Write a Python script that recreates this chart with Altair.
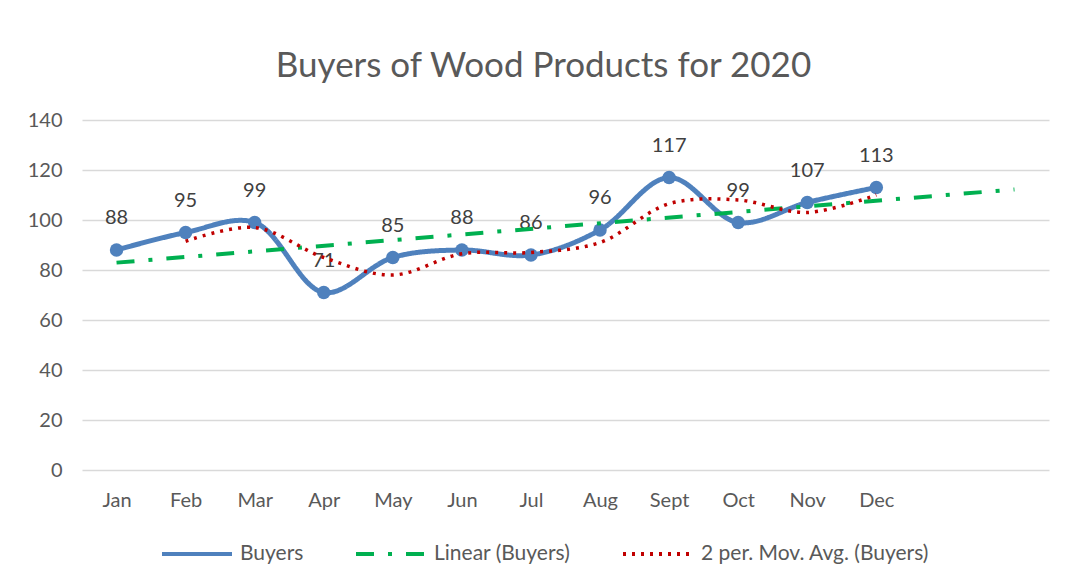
import altair as alt
import pandas as pd

months = ["Jan", "Feb", "Mar", "Apr", "May", "Jun", "Jul", "Aug", "Sept", "Oct", "Nov", "Dec"]
buyers = [88, 95, 99, 71, 85, 88, 86, 96, 117, 99, 107, 113]
series_names = ["Buyers", "Linear (Buyers)", "2 per. Mov. Avg. (Buyers)"]
series_colors = ["#4F81BD", "#00B050", "#C00000"]
y_ticks = [0, 20, 40, 60, 80, 100, 120, 140]

df = pd.DataFrame({"x": list(range(1, len(months) + 1)), "month": months, "buyers": buyers})

FONT = "Lato"
FS = 20
label_expr = "[" + ",".join(["''"] + ["'%s'" % m for m in months] + ["''", "''"]) + "][datum.value]"

xenc = alt.X("x:Q", scale=alt.Scale(domain=[0.5, 14.5], nice=False, zero=False),
             axis=alt.Axis(values=list(range(1, 13)), labelExpr=label_expr, title=None,
                           grid=False, domain=False, ticks=False, labelPadding=20,
                           labelFontSize=FS, labelColor="#595959", labelFont=FONT))
yenc = alt.Y("buyers:Q", scale=alt.Scale(domain=[0, 140], nice=False),
             axis=alt.Axis(values=y_ticks, title=None, domain=False, ticks=False,
                           labelPadding=20, labelFontSize=FS, labelColor="#595959",
                           labelFont=FONT, gridColor="#D9D9D9", gridWidth=1.3))

color = alt.Color("series:N", scale=alt.Scale(domain=series_names, range=series_colors),
                  legend=alt.Legend(title=None, orient="none", direction="horizontal",
                                    legendX=78, legendY=397, symbolType="stroke",
                                    symbolSize=4900, symbolStrokeWidth=4,
                                    labelFontSize=21, labelColor="#595959", labelFont=FONT,
                                    labelLimit=500, columnPadding=44, labelOffset=6))
dash = alt.StrokeDash("series:N", scale=alt.Scale(domain=series_names,
                      range=[[1, 0], [18, 14, 4, 14], [3, 6]]), legend=None)

base = alt.Chart(df)

line = base.mark_line(interpolate="catmull-rom", strokeWidth=5).encode(
    x=xenc, y=yenc, color=color, strokeDash=dash
).transform_calculate(series="'Buyers'")

pts = base.mark_circle(size=180, opacity=1, color="#4F81BD").encode(x="x:Q", y="buyers:Q")

labels = base.mark_text(dy=-32, baseline="middle", fontSize=FS, color="#404040", font=FONT).encode(
    x="x:Q", y="buyers:Q", text="buyers:Q")

trend = base.transform_regression("x", "buyers", extent=[1, 14]).transform_calculate(
    series="'Linear (Buyers)'"
).mark_line(strokeWidth=4).encode(x="x:Q", y="buyers:Q", color="series:N", strokeDash="series:N")

mavg = base.transform_window(
    ma="mean(buyers)", n="count()", frame=[-1, 0], sort=[{"field": "x"}]
).transform_filter("datum.n == 2").transform_calculate(
    series="'2 per. Mov. Avg. (Buyers)'"
).mark_line(strokeWidth=3.5, interpolate="catmull-rom").encode(
    x="x:Q", y=alt.Y("ma:Q"), color="series:N", strokeDash="series:N")

chart = alt.layer(line, pts, labels, trend, mavg).properties(
    width=967, height=350,
    title=alt.TitleParams("Buyers of Wood Products for 2020", fontSize=35, font=FONT,
                          color="#595959", fontWeight="normal", anchor="middle",
                          dx=-22, dy=42, offset=40, baseline="alphabetic"),
    autosize=alt.AutoSizeParams(type="none"),
    padding={"left": 74, "top": 112, "right": 10, "bottom": 100},
).configure_view(stroke=None)

chart.save("out.html", embed_options={"renderer": "svg", "actions": False})
